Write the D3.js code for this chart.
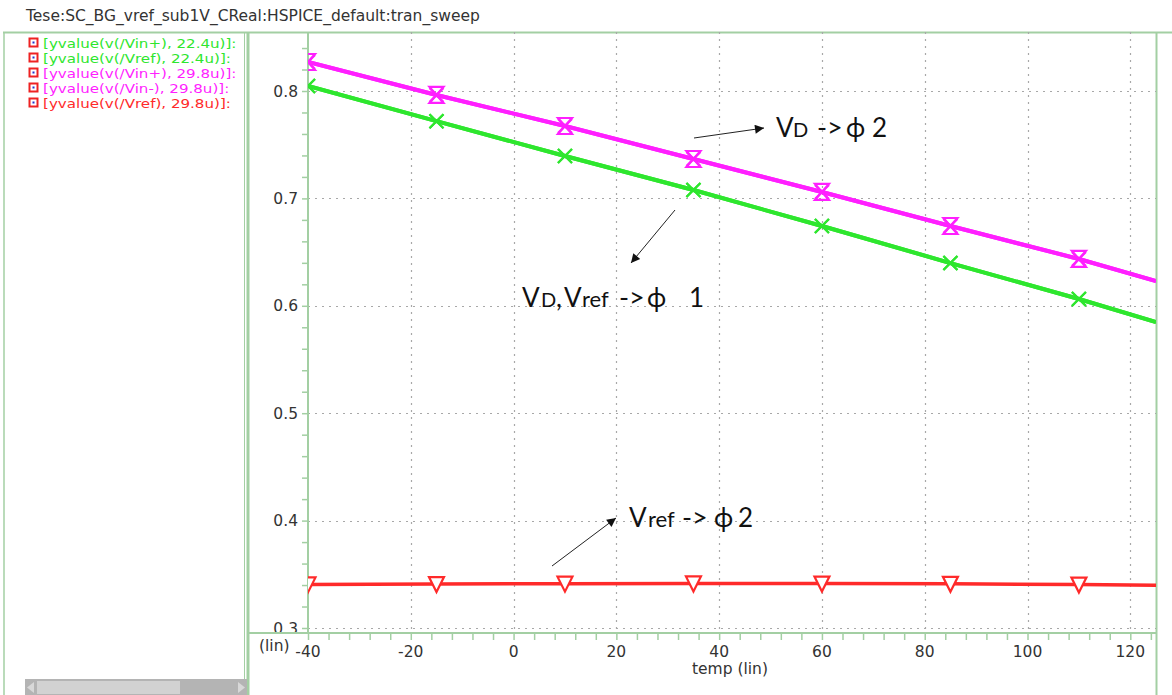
<!DOCTYPE html>
<html>
<head>
<meta charset="utf-8">
<script src="https://cdn.jsdelivr.net/npm/d3@7"></script>
<style>
  html, body { margin: 0; padding: 0; background: #fff; }
  svg { display: block; }
</style>
</head>
<body>
<svg id="chart" width="1172" height="695"></svg>
<script>
// Sweep temperatures (°C) and the sampled outputs of each expression
const temps = [-40, -15, 10, 35, 60, 85, 110, 125];
const markerCount = 7; // markers are placed on the first seven sweep points

const vinP224 = [0.8047, 0.7719, 0.7395, 0.7078, 0.6743, 0.6398, 0.6063, 0.5849];
const vref224 = [0.8047, 0.7719, 0.7395, 0.7078, 0.6743, 0.6398, 0.6063, 0.5849];
const vinP298 = [0.8270, 0.7963, 0.7674, 0.7367, 0.7060, 0.6743, 0.6436, 0.6231];
const vinN298 = [0.8270, 0.7963, 0.7674, 0.7367, 0.7060, 0.6743, 0.6436, 0.6231];
const vref298 = [0.3406, 0.3409, 0.3413, 0.3415, 0.3414, 0.3411, 0.3404, 0.3399];

const legendLabels = [
  "[yvalue(v(/Vin+), 22.4u)]:",
  "[yvalue(v(/Vref), 22.4u)]:",
  "[yvalue(v(/Vin+), 29.8u)]:",
  "[yvalue(v(/Vin-), 29.8u)]:",
  "[yvalue(v(/Vref), 29.8u)]:"
];

const xTicks = [-40, -20, 0, 20, 40, 60, 80, 100, 120];
const yTicks = [0.3, 0.4, 0.5, 0.6, 0.7, 0.8];

const title = "Tese:SC_BG_vref_sub1V_CReal:HSPICE_default:tran_sweep";

const GREEN = "#2ee62e", MAGENTA = "#ff1fff", RED = "#ff2a2a";
const FRAME = "#a3cfa3";

const series = [
  { values: vinP224, color: GREEN, marker: "x" },
  { values: vref224, color: GREEN, marker: "x" },
  { values: vinP298, color: MAGENTA, marker: "x" },
  { values: vinN298, color: MAGENTA, marker: "hourglass" },
  { values: vref298, color: RED, marker: "tri" }
];

const svg = d3.select("#chart");
const font = "'DejaVu Sans', sans-serif";
const FS = 15.5;

// Plot geometry
const plot = { left: 308, right: 1156, top: 32, bottom: 633 };
const x = d3.scaleLinear().domain([-40, 125]).range([plot.left, plot.right]);
const y = d3.scaleLinear().domain([0.3, 0.8]).range([628, 91]);

// Window title
svg.append("text")
  .attr("x", 26).attr("y", 21)
  .attr("font-family", font).attr("font-size", FS)
  .attr("fill", "#333")
  .text(title);

// Frame lines
svg.append("line").attr("x1", 3).attr("x2", 1172).attr("y1", 32.5).attr("y2", 32.5)
  .attr("stroke", FRAME).attr("stroke-width", 2);
svg.append("line").attr("x1", 4).attr("x2", 4).attr("y1", 32).attr("y2", 695)
  .attr("stroke", FRAME).attr("stroke-width", 1.5);
svg.append("line").attr("x1", 244.5).attr("x2", 244.5).attr("y1", 32).attr("y2", 695)
  .attr("stroke", FRAME).attr("stroke-width", 1);
svg.append("line").attr("x1", 248).attr("x2", 248).attr("y1", 32).attr("y2", 695)
  .attr("stroke", FRAME).attr("stroke-width", 3);
svg.append("line").attr("x1", plot.right + 0.5).attr("x2", plot.right + 0.5).attr("y1", 32).attr("y2", 695)
  .attr("stroke", FRAME).attr("stroke-width", 2);

// Legend: compact rows, glyphs widened a little horizontally
svg.append("clipPath").attr("id", "legClip")
  .append("rect").attr("x", 5).attr("y", 33).attr("width", 239).attr("height", 640);
const leg = svg.append("g").attr("clip-path", "url(#legClip)");
legendLabels.forEach((lab, i) => {
  const cy = 43 + i * 15;
  const g = leg.append("g");
  g.append("rect").attr("x", 29.5).attr("y", cy - 4.5).attr("width", 8).attr("height", 8)
    .attr("fill", "#fff").attr("stroke", "#ee2222").attr("stroke-width", 2);
  g.append("rect").attr("x", 32.5).attr("y", cy - 1.5).attr("width", 2).attr("height", 2)
    .attr("fill", "#2233cc");
  g.append("text")
    .attr("transform", `translate(43,${cy + 5}) scale(1.17,1)`)
    .attr("font-family", font).attr("font-size", 12.9)
    .attr("fill", series[i].color)
    .text(lab);
});

// Legend scrollbar
const sb = svg.append("g");
sb.append("rect").attr("x", 25).attr("y", 679).attr("width", 222).attr("height", 16).attr("fill", "#b4b4b4");
sb.append("rect").attr("x", 37).attr("y", 681).attr("width", 143).attr("height", 13).attr("fill", "#d2d2d2");
sb.append("path").attr("d", "M34,682 L27,687.5 L34,693 Z").attr("fill", "#d8d8d8");
sb.append("path").attr("d", "M238,682 L245,687.5 L238,693 Z").attr("fill", "#d8d8d8");

// Grid
const grid = svg.append("g").attr("stroke", "#a8a8a8").attr("stroke-width", 1.2)
  .attr("stroke-dasharray", "2,5");
grid.selectAll("line.v").data(xTicks.filter(t => t > -40)).join("line")
  .attr("x1", d => Math.round(x(d)) + 0.5).attr("x2", d => Math.round(x(d)) + 0.5)
  .attr("y1", plot.top).attr("y2", plot.bottom);
grid.selectAll("line.h").data(yTicks).join("line")
  .attr("x1", plot.left).attr("x2", plot.right)
  .attr("y1", d => Math.round(y(d)) + 0.5).attr("y2", d => Math.round(y(d)) + 0.5);

// Y axis
const yAxis = d3.axisLeft(y)
  .tickValues(d3.range(0.30, 0.845, 0.02))
  .tickSize(6).tickFormat("");
const yg = svg.append("g").attr("transform", `translate(${plot.left},0)`).call(yAxis);
yg.select(".domain").remove();
yg.selectAll("line").attr("stroke", FRAME).attr("stroke-width", 1.5);
svg.append("line").attr("x1", plot.left).attr("x2", plot.left).attr("y1", plot.top).attr("y2", plot.bottom)
  .attr("stroke", FRAME).attr("stroke-width", 2);
svg.append("g").selectAll("text").data(yTicks).join("text")
  .attr("x", 298).attr("y", d => y(d) + 5.5)
  .attr("text-anchor", "end")
  .attr("font-family", font).attr("font-size", FS).attr("fill", "#333")
  .text(d => d3.format(".1f")(d));

// X axis
const xAxis = d3.axisBottom(x)
  .tickValues(d3.range(-40, 125, 4))
  .tickSize(7).tickFormat("");
const xg = svg.append("g").attr("transform", `translate(0,${plot.bottom})`).call(xAxis);
xg.select(".domain").remove();
xg.selectAll("line").attr("stroke", FRAME).attr("stroke-width", 1.5);
svg.append("line").attr("x1", 248).attr("x2", plot.right).attr("y1", plot.bottom).attr("y2", plot.bottom)
  .attr("stroke", FRAME).attr("stroke-width", 2);
svg.append("g").selectAll("text").data(xTicks).join("text")
  .attr("x", d => x(d)).attr("y", 657)
  .attr("text-anchor", "middle")
  .attr("font-family", font).attr("font-size", FS).attr("fill", "#333")
  .text(d => d);
svg.append("text").attr("x", 259).attr("y", 651)
  .attr("font-family", font).attr("font-size", FS).attr("fill", "#333").text("(lin)");
svg.append("text").attr("x", 730).attr("y", 674).attr("text-anchor", "middle")
  .attr("font-family", font).attr("font-size", FS).attr("fill", "#333").text("temp (lin)");

// Curves
svg.append("clipPath").attr("id", "plotClip")
  .append("rect").attr("x", plot.left).attr("y", plot.top).attr("width", plot.right - plot.left).attr("height", plot.bottom - plot.top);
const plotG = svg.append("g").attr("clip-path", "url(#plotClip)");
const line = d3.line().x((d, i) => x(temps[i])).y(d => y(d));

const markerPath = {
  x: "M-7,-7 L7,7 M-7,7 L7,-7",
  hourglass: "M-7,-8 L7,-8 L-7,8 L7,8 Z",
  tri: "M-7.5,-7 L7.5,-7 L0,8 Z"
};

// Draw order: red, green, magenta
[4, 0, 1, 2, 3].forEach(si => {
  const s = series[si];
  plotG.append("path").datum(s.values)
    .attr("d", line)
    .attr("fill", "none").attr("stroke", s.color)
    .attr("stroke-width", si === 4 ? 3.5 : 4);
  plotG.append("g").selectAll("path")
    .data(s.values.slice(0, markerCount))
    .join("path")
    .attr("transform", (d, i) => `translate(${x(temps[i])},${y(d)})`)
    .attr("d", markerPath[s.marker])
    .attr("fill", s.marker === "tri" ? "#fff" : "none")
    .attr("stroke", s.color).attr("stroke-width", 2.2);
});

// Annotations: each piece placed at its own x, subscripts in a smaller size
const ann = svg.append("g").attr("font-family", "Lato, 'Open Sans', sans-serif").attr("fill", "#111");
function label(yPos, parts) {
  const t = ann.append("text").attr("y", yPos);
  parts.forEach(p => {
    t.append("tspan").attr("x", p[1]).attr("font-size", p[2]).text(p[0]);
  });
}
const BIG = 26, SUB = 20, REF = 22, ARR = 27, PHI = 26;
label(137, [["V", 776, BIG], ["D", 793, SUB], ["->", 817, ARR], ["ϕ", 846, PHI], ["2", 872, BIG]]);
label(307, [["V", 522, BIG], ["D", 541, SUB], [",", 556, BIG], ["V", 564, BIG], ["ref", 582, REF],
            ["->", 619, ARR], ["ϕ", 647, PHI], ["1", 689, BIG]]);
label(527, [["V", 629, BIG], ["ref", 648, REF], ["->", 682, ARR], ["ϕ", 714, PHI], ["2", 738, BIG]]);

svg.append("defs").append("marker")
  .attr("id", "ah").attr("viewBox", "0 0 10 10").attr("refX", 10).attr("refY", 5)
  .attr("markerWidth", 11).attr("markerHeight", 9).attr("markerUnits", "userSpaceOnUse")
  .attr("orient", "auto")
  .append("path").attr("d", "M0,0 L10,5 L0,10 Z").attr("fill", "#111");

const arrows = [
  [694, 138, 764, 128],
  [675, 210, 631, 263],
  [552, 566, 616, 518]
];
svg.append("g").selectAll("line").data(arrows).join("line")
  .attr("x1", d => d[0]).attr("y1", d => d[1]).attr("x2", d => d[2]).attr("y2", d => d[3])
  .attr("stroke", "#222").attr("stroke-width", 1)
  .attr("marker-end", "url(#ah)");
</script>
</body>
</html>
